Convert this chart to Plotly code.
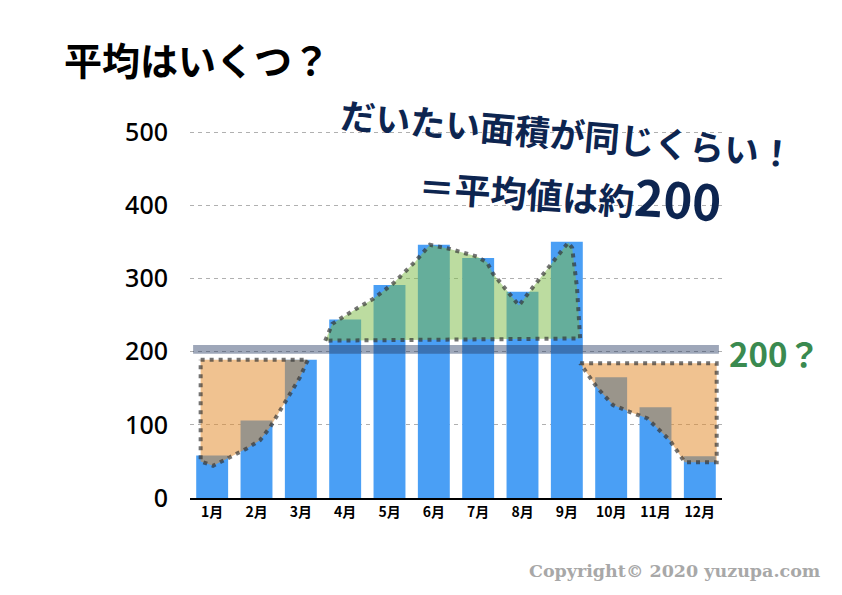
import plotly.graph_objects as go

# ---- data ----
months = ["1月", "2月", "3月", "4月", "5月", "6月", "7月", "8月", "9月", "10月", "11月", "12月"]
values = [58, 106, 189, 244, 291, 346, 328, 282, 350, 165, 124, 57]
y_ticks = [0, 100, 200, 300, 400, 500]

# overlay polygons (x = month index, y = value)
left_area_x = [-0.26, 2.16, 1.98, 1.76, 1.53, 1.31, 1.08, 0.79, 0.41, 0.02, -0.26, -0.26]
left_area_y = [189, 189, 165, 143, 120, 97, 79, 68, 56, 44, 50, 189]

mid_area_x = [2.55, 2.71, 3.18, 3.63, 4.08, 4.58, 4.91, 5.32, 5.97, 6.20, 6.33, 6.67, 6.92, 7.17, 7.69, 8.03, 8.12, 8.23, 8.30, 2.55]
mid_area_y = [215, 238, 256, 272, 293, 323, 346, 341, 330, 322, 307, 281, 263, 283, 322, 349, 342, 287, 218, 215]

right_area_x = [8.30, 11.38, 11.38, 10.66, 10.32, 9.81, 9.49, 9.04, 8.68, 8.36, 8.30]
right_area_y = [184, 184, 49, 49, 79, 109, 116, 127, 151, 177, 184]

band_low, band_high = 197, 209
band_x0, band_x1 = -0.43, 11.43

# ---- layout geometry (reference pixels; page adds an 8px body offset) ----
W, H = 842, 595
OFF = 8
L, R, T, B = 190, 722, 131, 498


def px(x, y):
    return (x - L) / (R - L), (B - y) / (B - T)


JP = "Noto Sans CJK JP"
DOT = "4px,5px"
DOT_COLOR = "rgba(50,50,50,0.68)"

fig = go.Figure()
fig.add_trace(go.Bar(
    x=list(range(len(months))), y=values,
    marker=dict(color="#4a9ff5", line=dict(width=0)),
    width=0.72, hoverinfo="skip",
))
for xs, ys, col in [
    (left_area_x, left_area_y, "rgba(227,140,46,0.53)"),
    (mid_area_x, mid_area_y, "rgba(126,188,72,0.52)"),
    (right_area_x, right_area_y, "rgba(227,140,46,0.53)"),
]:
    fig.add_trace(go.Scatter(
        x=xs, y=ys, mode="lines", fill="toself", fillcolor=col,
        line=dict(color=DOT_COLOR, width=4, dash=DOT),
        hoverinfo="skip",
    ))

fig.add_shape(type="rect", xref="x", yref="y", x0=band_x0, x1=band_x1,
              y0=band_low, y1=band_high, fillcolor="rgba(40,60,100,0.45)",
              line=dict(width=0), layer="above")

anns = []
x, y = px(62, 58)
anns.append(dict(text="<b>平均はいくつ？</b>", x=x, y=y, xanchor="left", yanchor="middle",
                 font=dict(family=JP, size=38, color="#000000")))
x, y = px(567, 133)
anns.append(dict(text="<b>だいたい面積が同じくらい！</b>", x=x, y=y, xanchor="center", yanchor="middle",
                 textangle=5, font=dict(family=JP, size=35, color="#0d2550")))
x, y = px(570, 189)
anns.append(dict(text="<b>＝平均値は約<span style='font-size:49px'>200</span></b>", x=x, y=y,
                 xanchor="center", yanchor="middle",
                 textangle=4, font=dict(family=JP, size=36, color="#0d2550")))
x, y = px(727, 353)
anns.append(dict(text="<b>200？</b>", x=x, y=y, xanchor="left", yanchor="middle",
                 font=dict(family=JP, size=33, color="#3a8a50")))
x, y = px(675, 571)
anns.append(dict(text="<b>Copyright© 2020 yuzupa.com</b>", x=x, y=y, xanchor="center", yanchor="middle",
                 font=dict(family="DejaVu Serif", size=17.5, color="#a8a8a8")))
for a in anns:
    a.update(xref="paper", yref="paper", showarrow=False)

fig.update_layout(
    width=W, height=H,
    margin=dict(l=L - OFF, r=W - (R - OFF), t=T - OFF, b=H - (B - OFF), pad=0),
    paper_bgcolor="white", plot_bgcolor="white",
    showlegend=False, annotations=anns,
    xaxis=dict(range=[-0.5, 11.5], tickvals=list(range(len(months))), ticktext=months,
               showgrid=False, zeroline=False, showline=True, linecolor="#000000", linewidth=1.5,
               ticks="", tickfont=dict(family=JP, size=14, color="#000000", weight="bold"),
               fixedrange=True),
    yaxis=dict(range=[0, 501.5], tickvals=y_ticks, showgrid=True, gridcolor="#b0b0b0",
               griddash="4px,4px", gridwidth=1, zeroline=False, showline=False,
               ticks="outside", ticklen=16, tickcolor="rgba(0,0,0,0)",
               tickfont=dict(family="Noto Sans", size=25, color="#000000", weight=500),
               fixedrange=True),
)

fig.write_html("out.html")
